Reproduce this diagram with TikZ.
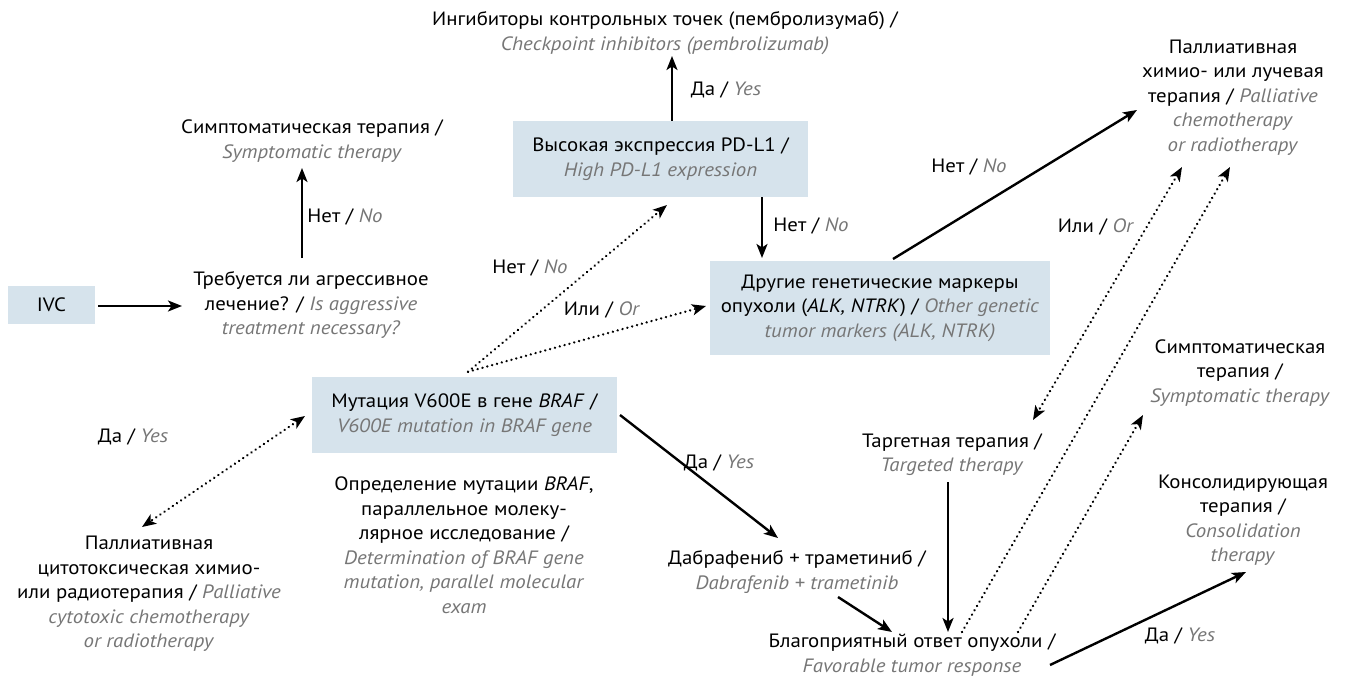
\documentclass[tikz,border=0pt]{standalone}
\usepackage{fontspec}
\setmainfont{PT Sans}[FakeStretch=1.08]
\usetikzlibrary{arrows.meta,calc}
\definecolor{engcol}{RGB}{118,118,118}
\definecolor{boxcol}{RGB}{214,227,236}
\newcommand\eng[1]{\textcolor{engcol}{\textit{#1}}}
\begin{document}
\begin{tikzpicture}[x=1pt,y=-1pt,
  every node/.style={font=\fontsize{19.3}{24.5}\selectfont, align=center, inner sep=0pt},
  txt/.style={},
  bx/.style={fill=boxcol, minimum width=#1},
  lbl/.style={},
  sol/.style={line width=2.4pt, -{Stealth[length=14pt,width=11pt,inset=3.5pt]}},
  dot/.style={line width=2.6pt, line cap=round, dash pattern=on 0.01pt off 5pt,
     -{Stealth[length=14pt,width=11pt,inset=3.5pt]}},
  dotb/.style={dot, {Stealth[length=14pt,width=11pt,inset=3.5pt]}-{Stealth[length=14pt,width=11pt,inset=3.5pt]}}
]
\useasboundingbox (0,0) rectangle (1349,687);
% boxes
\node[bx=87pt, minimum height=38pt] (ivc) at (51.5,305) {IVC};
\node[bx=295pt, minimum height=76pt] (pdl) at (660.5,159) {Высокая экспрессия PD-L1 /\\ \eng{High PD-L1 expression}};
\node[bx=340pt, minimum height=94pt] (oth) at (880,308) {Другие генетические маркеры\\ опухоли (\textit{ALK, NTRK}) / \eng{Other genetic}\\ \eng{tumor markers (ALK, NTRK)}};
\node[bx=305pt, minimum height=76pt] (braf) at (464.5,415) {Мутация V600E в гене \textit{BRAF} /\\ \eng{V600E mutation in BRAF gene}};
% text nodes
\node[txt] (chk) at (665,33) {Ингибиторы контрольных точек (пембролизумаб) /\\ \eng{Checkpoint inhibitors (pembrolizumab)}};
\node[txt] (symL) at (312,141) {Симптоматическая терапия /\\ \eng{Symptomatic therapy}};
\node[txt] (aggr) at (311,305) {Требуется ли агрессивное\\ лечение? / \eng{Is aggressive}\\ \eng{treatment necessary?}};
\node[txt] (det) at (464,545) {Определение мутации \textit{BRAF},\\ параллельное молеку-\\ лярное исследование /\\ \eng{Determination of BRAF gene}\\ \eng{mutation, parallel molecular}\\ \eng{exam}};
\node[txt] (palL) at (149,594) {Паллиативная\\ цитотоксическая химио-\\ или радиотерапия / \eng{Palliative}\\ \eng{cytotoxic chemotherapy}\\ \eng{or radiotherapy}};
\node[txt] (dab) at (797,572) {Дабрафениб + траметиниб /\\ \eng{Dabrafenib + trametinib}};
\node[txt] (fav) at (912,655) {Благоприятный ответ опухоли /\\ \eng{Favorable tumor response}};
\node[txt] (targ) at (952,454.5) {Таргетная терапия /\\ \eng{Targeted therapy}};
\node[txt] (palR) at (1233,97.5) {Паллиативная\\ химио- или лучевая\\ терапия / \eng{Palliative}\\ \eng{chemotherapy}\\ \eng{or radiotherapy}};
\node[txt] (symR) at (1240,373) {Симптоматическая\\ терапия /\\ \eng{Symptomatic therapy}};
\node[txt] (cons) at (1243,520) {Консолидирующая\\ терапия /\\ \eng{Consolidation}\\ \eng{therapy}};
% labels
\node[lbl] (l1) at (726,90) {Да / \eng{Yes}};
\node[lbl] (l2) at (811,226) {Нет / \eng{No}};
\node[lbl] (l3) at (345,217) {Нет / \eng{No}};
\node[lbl] (l4) at (530,268) {Нет / \eng{No}};
\node[lbl] (l5) at (602,310) {Или / \eng{Or}};
\node[lbl] (l6) at (133,437) {Да / \eng{Yes}};
\node[lbl] (l7) at (719,463) {Да / \eng{Yes}};
\node[lbl] (l8) at (969,167) {Нет / \eng{No}};
\node[lbl] (l9) at (1096,227) {Или / \eng{Or}};
\node[lbl] (l10) at (1180,636) {Да / \eng{Yes}};
% split point above BRAF box
\coordinate (split) at ($(braf.north)+(3.5,-5)$);
% connectors
\draw[sol] ($(ivc.east)+(3,1)$) -- ($(aggr)+(-129,1)$);
\draw[sol] ($(aggr)+(-9,-47)$) -- ($(symL)+(-10,27)$);
\draw[sol] ($(pdl.north)+(11.5,0)$) -- ($(chk)+(7,23)$);
\draw[sol] ($(pdl.south)+(101.5,0)$) -- ($(oth)+(-118,-50)$);
\draw[dot] (split) -- ($(pdl)+(6.5,46)$);
\draw[dot] (split) -- ($(oth)+(-174,-2)$);
\draw[dotb] ($(braf)+(-159.5,1)$) -- ($(palL)+(-7,-67)$);
\draw[sol] ($(braf)+(155.5,0)$) -- ($(dab)+(-19,-34)$);
\draw[sol] ($(dab)+(41,25)$) -- ($(fav)+(-20,-23)$);
\draw[sol] ($(targ)+(-4,27.5)$) -- ($(fav)+(36,-23)$);
\draw[dot] ($(fav)+(50,-23)$) -- ($(palR)+(-3,69.5)$);
\draw[dot] ($(fav)+(106,-23)$) -- ($(symR)+(-97,42)$);
\draw[dotb] ($(palR)+(-51,69.5)$) -- ($(targ)+(81,-34.5)$);
\draw[sol] ($(oth)+(13,-49)$) -- ($(palR)+(-96,12.5)$);
\draw[sol] ($(fav)+(138,10)$) -- ($(cons)+(3,52)$);
\end{tikzpicture}
\end{document}
